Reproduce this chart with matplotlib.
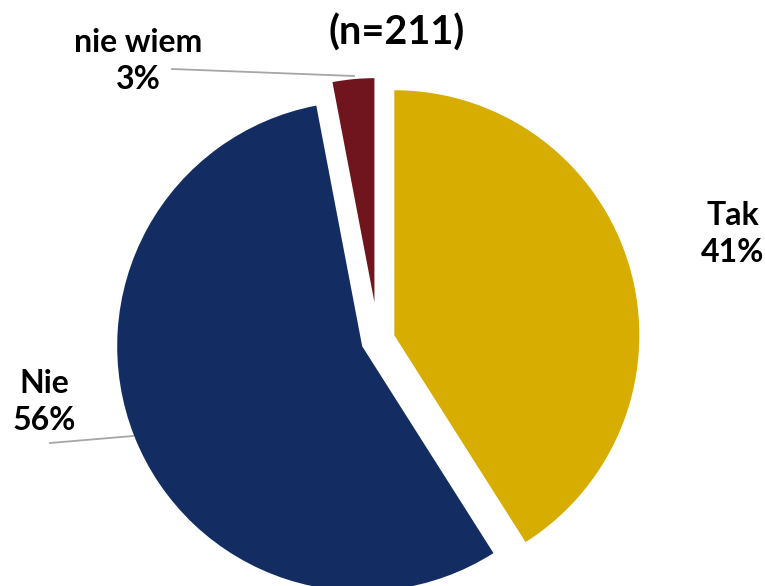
import matplotlib.pyplot as plt

labels = ["Tak", "Nie", "nie wiem"]
shares = [41, 56, 3]
colors = ["#D6AD00", "#132D62", "#70141D"]
explode = [17, 17, 38]  # matplotlib offsets in data units, here pixels
title = "(n=211)"

W, H = 765, 586
fig = plt.figure(figsize=(W / 100, H / 100), dpi=100)
ax = fig.add_axes([0, 0, 1, 1])

# pie drawn in pixel-like data units (y up)
wedges, _ = ax.pie(shares, colors=colors, explode=explode, startangle=90,
                   counterclock=False, center=(378, H - 340), radius=245,
                   frame=True, wedgeprops=dict(linewidth=0))
# the small exploded slice is drawn a bit shorter in the original
wedges[2].set_radius(224)
ax.set_xlim(0, W)
ax.set_ylim(0, H)
ax.set_aspect("equal")
ax.axis("off")

font = dict(family=["Lato", "DejaVu Sans"], fontweight="bold", color="black")

ax.text(397, H - 33, title, ha="center", va="center", fontsize=28.5, **font)

label_pos = {"Tak": (733, H - 234), "Nie": (44, H - 402), "nie wiem": (138, H - 61)}
for lab, val in zip(labels, shares):
    x, y = label_pos[lab]
    ax.text(x, y, f"{lab}\n{val}%", ha="center", va="center", fontsize=23,
            linespacing=1.3, **font)

# leader lines
ax.plot([172, 354], [H - 69, H - 76], color="#A6A6A6", lw=1.3)
ax.plot([50, 133], [H - 443, H - 436], color="#A6A6A6", lw=1.3)

fig.savefig("out.png", dpi=100)
